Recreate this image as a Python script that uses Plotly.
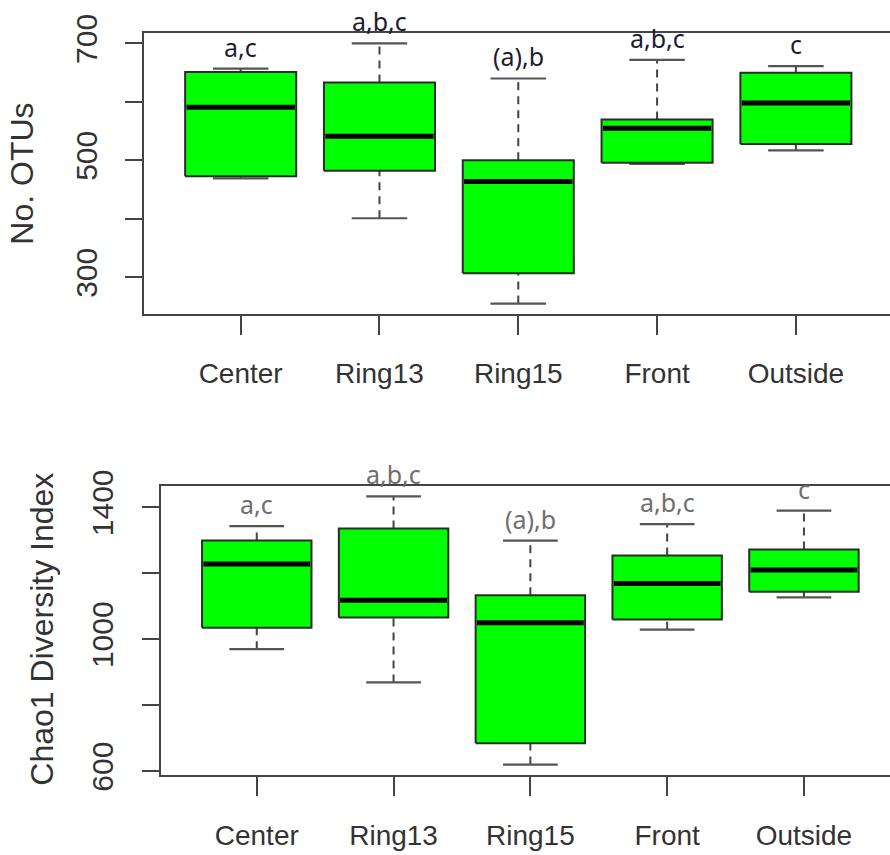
import plotly.graph_objects as go

# Sampling sites
sites = ["Center", "Ring13", "Ring15", "Front", "Outside"]

# Number of OTUs: box-plot summary per site
otu_low = [469, 401, 255, 494, 517]
otu_q1 = [473, 482, 307, 496, 528]
otu_med = [591, 541, 464, 555, 598]
otu_q3 = [651, 633, 500, 570, 650]
otu_high = [657, 700, 640, 672, 661]
otu_letters = ["a,c", "a,b,c", "(a),b", "a,b,c", "c"]

# Chao1 diversity index: box-plot summary per site
chao_low = [970, 869, 620, 1029, 1127]
chao_q1 = [1035, 1066, 685, 1060, 1144]
chao_med = [1228, 1118, 1050, 1169, 1210]
chao_q3 = [1299, 1336, 1133, 1254, 1272]
chao_high = [1343, 1433, 1299, 1349, 1390]
chao_letters = ["a,c", "a,b,c", "(a),b", "a,b,c", "c"]

W, H = 890, 855
GREEN = "#00ff00"
EDGE = "#2b2b2b"
FRAME = "#444444"
BOX_W = 0.8
CAP_W = 0.4

fig = go.Figure()


def add_panel(xa, ya, low, q1, med, q3, high):
    for i in range(len(sites)):
        xc = i + 1
        x0, x1 = xc - BOX_W / 2, xc + BOX_W / 2
        c0, c1 = xc - CAP_W / 2, xc + CAP_W / 2
        # dashed whiskers
        for a, b in ((q3[i], high[i]), (low[i], q1[i])):
            fig.add_trace(go.Scatter(
                x=[xc, xc], y=[a, b], mode="lines", xaxis=xa, yaxis=ya,
                line=dict(color="#444444", width=2, dash="8px,6px"),
                hoverinfo="skip", showlegend=False))
        # whisker caps
        for v in (low[i], high[i]):
            fig.add_trace(go.Scatter(
                x=[c0, c1], y=[v, v], mode="lines", xaxis=xa, yaxis=ya,
                line=dict(color="#555555", width=2.2),
                hoverinfo="skip", showlegend=False))
        # box
        fig.add_trace(go.Scatter(
            x=[x0, x1, x1, x0, x0], y=[q1[i], q1[i], q3[i], q3[i], q1[i]],
            mode="lines", fill="toself", fillcolor=GREEN, xaxis=xa, yaxis=ya,
            line=dict(color=EDGE, width=2), hoverinfo="skip", showlegend=False))
        # median
        fig.add_trace(go.Scatter(
            x=[x0 + 0.01, x1 - 0.01], y=[med[i], med[i]], mode="lines",
            xaxis=xa, yaxis=ya, line=dict(color="#000000", width=5),
            hoverinfo="skip", showlegend=False))


add_panel("x", "y", otu_low, otu_q1, otu_med, otu_q3, otu_high)
add_panel("x2", "y2", chao_low, chao_q1, chao_med, chao_q3, chao_high)


def yr(lo, hi):
    pad = 0.04 * (hi - lo)
    return [lo - pad, hi + pad]


tick_font = dict(family="Liberation Sans, Arial, sans-serif", size=28, color="#333333")
ytick_font = dict(family="Liberation Sans, Arial, sans-serif", size=30, color="#333333")

common_x = dict(
    tickmode="array", tickvals=[1, 2, 3, 4, 5], ticktext=sites,
    showline=True, mirror=True, linecolor=FRAME, linewidth=2,
    ticks="outside", ticklen=19, tickwidth=2, tickcolor=FRAME,
    tickfont=tick_font, showgrid=False, zeroline=False,
    fixedrange=True, automargin=False,
)
common_y = dict(
    showline=True, mirror=False, linecolor=FRAME, linewidth=2,
    ticks="outside", ticklen=17, tickwidth=2, tickcolor=FRAME,
    tickangle=-90, tickfont=ytick_font, showgrid=False, zeroline=False,
    fixedrange=True, automargin=False,
)

top_l, top_t, top_b = 143.5, 33, 314
bot_l, bot_t, bot_b = 161, 485.7, 775.3

fig.update_layout(
    width=W, height=H, margin=dict(l=0, r=0, t=0, b=0, autoexpand=False),
    paper_bgcolor="white", plot_bgcolor="white", showlegend=False,
    xaxis=dict(common_x, domain=[top_l / W, 1], range=[0.3, 5.678], anchor="y",
               ticklabelstandoff=14),
    yaxis=dict(common_y, domain=[1 - top_b / H, 1 - top_t / H],
               range=yr(min(otu_low), max(otu_high)),
               tickvals=[300, 400, 500, 600, 700], ticktext=["300", "", "500", "", "700"],
               ticklabelstandoff=16, anchor="x"),
    xaxis2=dict(common_x, domain=[bot_l / W, 1], range=[0.3, 5.629], anchor="y2",
                ticklabelstandoff=15),
    yaxis2=dict(common_y, domain=[1 - bot_b / H, 1 - bot_t / H],
                range=yr(min(chao_low), max(chao_high)),
                tickvals=[600, 800, 1000, 1200, 1400], ticktext=["600", "", "1000", "", "1400"],
                ticklabelstandoff=17, anchor="x2"),
)

# significance letters above each upper whisker
letter_font_top = dict(family="Noto Sans, sans-serif", size=25, color="#1c1c30")
letter_font_bot = dict(family="Noto Sans, sans-serif", size=25, color="#6e6e6e")
for i, s in enumerate(sites):
    fig.add_annotation(x=i + 1, y=otu_high[i], xref="x", yref="y", text=otu_letters[i],
                       showarrow=False, yanchor="middle", yshift=22, font=letter_font_top)
    fig.add_annotation(x=i + 1, y=chao_high[i], xref="x2", yref="y2", text=chao_letters[i],
                       showarrow=False, yanchor="middle", yshift=22, font=letter_font_bot)

# y-axis titles
title_font = dict(family="Liberation Sans, Arial, sans-serif", size=32, color="#333333")
fig.add_annotation(x=21.7 / W, y=1 - 174 / H, xref="paper", yref="paper", text="No. OTUs",
                   textangle=-90, showarrow=False, font=title_font,
                   xanchor="center", yanchor="middle")
fig.add_annotation(x=41.7 / W, y=1 - 629 / H, xref="paper", yref="paper",
                   text="Chao1 Diversity Index", textangle=-90, showarrow=False,
                   font=title_font, xanchor="center", yanchor="middle")

fig.write_html("out.html")
